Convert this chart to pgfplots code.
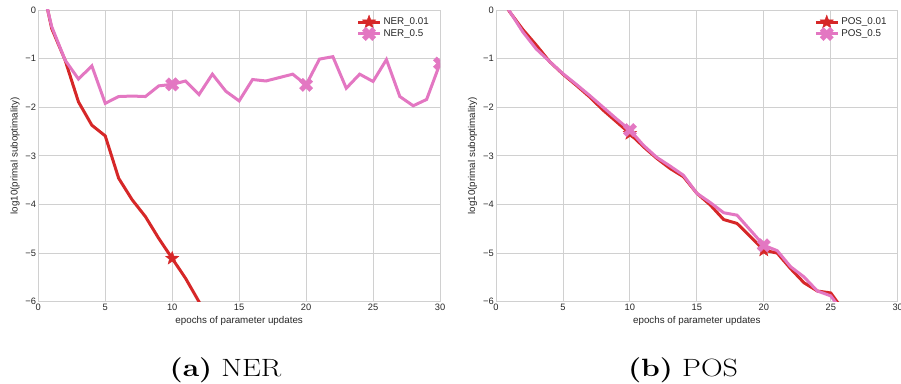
\documentclass[border=0pt]{standalone}
\usepackage{fontspec}
\setsansfont{Liberation Sans}
\usepackage{pgfplots}
\pgfplotsset{compat=1.18}
\definecolor{tred}{HTML}{D62728}
\definecolor{tpink}{HTML}{E377C2}
\definecolor{gridc}{HTML}{D0D0D0}
\definecolor{txt}{HTML}{262626}

\pgfdeclareplotmark{fstar}{%
 \pgfpathmoveto{\pgfpointpolar{90}{\pgfplotmarksize}}%
 \pgfpathlineto{\pgfpointpolar{126}{0.42\pgfplotmarksize}}%
 \pgfpathlineto{\pgfpointpolar{162}{\pgfplotmarksize}}%
 \pgfpathlineto{\pgfpointpolar{198}{0.42\pgfplotmarksize}}%
 \pgfpathlineto{\pgfpointpolar{234}{\pgfplotmarksize}}%
 \pgfpathlineto{\pgfpointpolar{270}{0.42\pgfplotmarksize}}%
 \pgfpathlineto{\pgfpointpolar{306}{\pgfplotmarksize}}%
 \pgfpathlineto{\pgfpointpolar{342}{0.42\pgfplotmarksize}}%
 \pgfpathlineto{\pgfpointpolar{18}{\pgfplotmarksize}}%
 \pgfpathlineto{\pgfpointpolar{54}{0.42\pgfplotmarksize}}%
 \pgfpathclose
 \pgfusepathqfillstroke}

\pgfdeclareplotmark{fX}{%
 \pgftransformrotate{45}%
 \pgfpathmoveto{\pgfpoint{0.34\pgfplotmarksize}{\pgfplotmarksize}}%
 \pgfpathlineto{\pgfpoint{-0.34\pgfplotmarksize}{\pgfplotmarksize}}%
 \pgfpathlineto{\pgfpoint{-0.34\pgfplotmarksize}{0.34\pgfplotmarksize}}%
 \pgfpathlineto{\pgfpoint{-\pgfplotmarksize}{0.34\pgfplotmarksize}}%
 \pgfpathlineto{\pgfpoint{-\pgfplotmarksize}{-0.34\pgfplotmarksize}}%
 \pgfpathlineto{\pgfpoint{-0.34\pgfplotmarksize}{-0.34\pgfplotmarksize}}%
 \pgfpathlineto{\pgfpoint{-0.34\pgfplotmarksize}{-\pgfplotmarksize}}%
 \pgfpathlineto{\pgfpoint{0.34\pgfplotmarksize}{-\pgfplotmarksize}}%
 \pgfpathlineto{\pgfpoint{0.34\pgfplotmarksize}{-0.34\pgfplotmarksize}}%
 \pgfpathlineto{\pgfpoint{\pgfplotmarksize}{-0.34\pgfplotmarksize}}%
 \pgfpathlineto{\pgfpoint{\pgfplotmarksize}{0.34\pgfplotmarksize}}%
 \pgfpathlineto{\pgfpoint{0.34\pgfplotmarksize}{0.34\pgfplotmarksize}}%
 \pgfpathclose
 \pgfusepathqfillstroke}

\pgfplotsset{myax/.style={
  scale only axis, width=401.7pt, height=291.7pt,
  xmin=0, xmax=30, ymin=-6, ymax=0,
  xtick={0,5,...,30}, ytick={-6,-5,-4,-3,-2,-1,0},
  yticklabels={−6,−5,−4,−3,−2,−1,0},
  grid=major, major grid style={gridc, line width=0.9pt},
  axis line style={gridc, line width=0.9pt},
  major tick length=0pt,
  /pgf/number format/assume math mode=true,
  tick label style={font=\sffamily\fontsize{9.3}{10}\selectfont, text=txt, inner sep=2pt},
  every axis x label/.style={at={(axis description cs:0.5,-0.05)}, anchor=north, inner sep=0pt, font=\sffamily\fontsize{9.8}{11}\selectfont, text=txt},
  every axis y label/.style={at={(axis description cs:-0.058,0.5)}, rotate=90, anchor=center, inner sep=0pt, font=\sffamily\fontsize{9.8}{11}\selectfont, text=txt},
  xlabel={epochs of parameter updates},
  ylabel={log10(primal suboptimality)},
  clip marker paths=true,
  legend style={draw=none, fill=none, at={(0.985,0.99)}, anchor=north east,
    font=\sffamily\fontsize{9.8}{10}\selectfont, text=txt, row sep=-1pt},
  legend cell align=left,
  legend image code/.code={\draw[mark repeat=2,mark phase=2] plot coordinates {(0pt,0pt)(11pt,0pt)(22pt,0pt)};},
  every axis plot/.append style={line width=3pt, mark repeat=10, mark phase=10},
}}

\begin{document}
\begin{tikzpicture}[x=1pt,y=1pt]
\useasboundingbox (0,0) rectangle (901,383);

\begin{axis}[myax, at={(38.3pt,81.3pt)}, anchor=south west]
\addplot[tred, mark=fstar, mark size=7pt, mark options={solid, line width=0.4pt, fill=tred}] coordinates {
(0,0.9) (1,-0.38) (2,-1.03) (3,-1.89) (4,-2.37) (5,-2.59) (6,-3.46) (7,-3.9) (8,-4.25) (9,-4.7) (10,-5.11) (11,-5.52) (12,-6.0) (13,-6.5)};
\addlegendentry{NER\_0.01}
\addplot[tpink, mark=fX, mark size=7pt, mark options={solid, line width=0.4pt, fill=tpink}] coordinates {
(0,0.8) (1,-0.34) (2,-1.03) (3,-1.42) (4,-1.15) (5,-1.92) (6,-1.78) (7,-1.77) (8,-1.78) (9,-1.56) (10,-1.53) (11,-1.46) (12,-1.74) (13,-1.32) (14,-1.67) (15,-1.87) (16,-1.43) (17,-1.46) (18,-1.39) (19,-1.32) (20,-1.54) (21,-1.01) (22,-0.96) (23,-1.61) (24,-1.32) (25,-1.47) (26,-1.02) (27,-1.78) (28,-1.97) (29,-1.84) (30,-1.1)};
\addlegendentry{NER\_0.5}
\end{axis}

\begin{axis}[myax, at={(496pt,81.3pt)}, anchor=south west]
\addplot[tred, mark=fstar, mark size=7pt, mark options={solid, line width=0.4pt, fill=tred}] coordinates {
(0,0.45) (1,-0.03) (2,-0.40) (3,-0.72) (4,-1.06) (5,-1.32) (6,-1.55) (7,-1.79) (8,-2.06) (9,-2.30) (10,-2.54) (11,-2.81) (12,-3.05) (13,-3.26) (14,-3.43) (15,-3.77) (16,-4.01) (17,-4.31) (18,-4.39) (19,-4.66) (20,-4.94) (21,-5.0) (22,-5.32) (23,-5.61) (24,-5.78) (25,-5.82) (26,-6.2)};
\addlegendentry{POS\_0.01}
\addplot[tpink, mark=fX, mark size=7pt, mark options={solid, line width=0.4pt, fill=tpink}] coordinates {
(0,0.45) (1,-0.02) (2,-0.45) (3,-0.80) (4,-1.06) (5,-1.31) (6,-1.53) (7,-1.76) (8,-2.0) (9,-2.24) (10,-2.47) (11,-2.78) (12,-3.03) (13,-3.21) (14,-3.40) (15,-3.77) (16,-3.96) (17,-4.17) (18,-4.22) (19,-4.53) (20,-4.84) (21,-4.95) (22,-5.28) (23,-5.49) (24,-5.78) (25,-5.88) (26,-6.25)};
\addlegendentry{POS\_0.5}
\end{axis}

\node[anchor=base, inner sep=0pt, xscale=1.2, font=\fontsize{25}{30}\selectfont] at (225.5,6.5) {\textbf{(a)} NER};
\node[anchor=base, inner sep=0pt, xscale=1.2, font=\fontsize{25}{30}\selectfont] at (683,6.5) {\textbf{(b)} POS};
\end{tikzpicture}
\end{document}
